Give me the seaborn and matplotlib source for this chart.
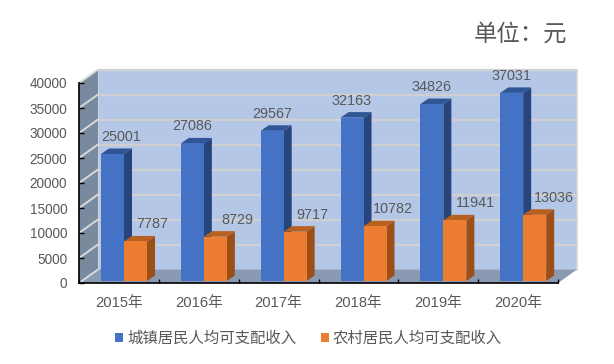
import matplotlib
matplotlib.use("Agg")
import matplotlib.pyplot as plt
from matplotlib.patches import Polygon, Patch
from matplotlib.transforms import Affine2D
import pandas as pd
import seaborn as sns

years = ["2015年", "2016年", "2017年", "2018年", "2019年", "2020年"]
urban = [25001, 27086, 29567, 32163, 34826, 37031]
rural = [7787, 8729, 9717, 10782, 11941, 13036]
urban_name = "城镇居民人均可支配收入"
rural_name = "农村居民人均可支配收入"
yticks = list(range(0, 40001, 5000))
urban_label_dx = [9, 0, 0, 0, 0, 0]
rural_label_dx = [17, 22, 17, 18, 21, 19]

sns.set_theme(style="white")
plt.rcParams["font.family"] = ["Liberation Sans", "Noto Sans CJK SC", "DejaVu Sans"]

W, H = 614, 364
GREY = "#595959"
fig = plt.figure(figsize=(W / 100, H / 100), dpi=100, facecolor="white")


def box(l, r, top, bottom):
    return [l / W, 1 - bottom / H, (r - l) / W, (bottom - top) / H]


ax = fig.add_axes(box(79, 558, 83, 283))
ax.set_xlim(0, 6)
ax.set_ylim(0, 40000)
ax.set_facecolor("none")

# 3D box walls, offset from the front axis plane
back = Affine2D().translate(19, 13.5)
wall_t = ax.transData + back
ax.add_patch(Polygon([(0, 0), (6, 0), (6, 40000), (0, 40000)], closed=True, transform=wall_t,
                     fc="#B4C7E7", ec="#D5D5D5", lw=1.2, zorder=0, clip_on=False))
d0 = ax.transData.transform((0, 0))
d6 = ax.transData.transform((6, 0))
dt = ax.transData.transform((0, 40000))
ident = Affine2D()
ax.add_patch(Polygon([d0, d0 + (19, 13.5), dt + (19, 13.5), dt], closed=True, transform=ident,
                     fc="#7A8A9E", ec="none", zorder=0.1, clip_on=False))
ax.add_patch(Polygon([d0, d6, d6 + (19, 13.5), d0 + (19, 13.5)], closed=True, transform=ident,
                     fc="#8A9AB3", ec="none", zorder=0.1, clip_on=False))
for t in yticks:
    p = ax.transData.transform((0, t))
    if t > 0:
        ax.plot([0, 6], [t, t], transform=wall_t, color="#D0D0D0", lw=1.6, zorder=0.2,
                clip_on=False, solid_capstyle="butt")
    ax.plot([p[0], p[0] + 19], [p[1], p[1] + 13.5], transform=ident, color="#D9D9D9", lw=1.4,
            zorder=0.2, clip_on=False)

ax.set_xticks(range(7))
ax.set_xticklabels([])
ax.set_xticks([i + 0.5 for i in range(6)], years, minor=True)
ax.set_yticks(yticks)
ax.set_yticklabels([str(t) for t in yticks], fontsize=9.8, color=GREY)
ax.tick_params(axis="x", which="major", direction="in", length=3.2, width=1, color="black",
               bottom=True, top=False)
ax.tick_params(axis="x", which="minor", length=0, labelsize=10.6, labelcolor=GREY, pad=9.5)
ax.tick_params(axis="y", direction="in", length=3.6, width=1, color="black", left=True, pad=8.5)
for s in ["top", "right"]:
    ax.spines[s].set_visible(False)
for s in ["left", "bottom"]:
    ax.spines[s].set_color("black")
    ax.spines[s].set_linewidth(1.2)
    ax.spines[s].set_zorder(0.5)

# bars live in a plane slightly behind the front axis
bx = fig.add_axes(box(84.1, 563.1, 77.8, 281))
bx.patch.set_visible(False)
df = pd.DataFrame({
    "year": years * 2,
    "value": urban + rural,
    "kind": [urban_name] * 6 + [rural_name] * 6,
})
sns.barplot(data=df, x="year", y="value", hue="kind", ax=bx, width=0.576, gap=0,
            palette=["#4472C4", "#ED7D31"], saturation=1, legend=False, linewidth=0)
bx.set_xlim(-0.5, 5.5)
bx.set_ylim(0, 40000)
bx.axis("off")

DX, DY = 8, 5.5
styles = [("#2F5597", "#27457C", 2), ("#B8601F", "#9C5018", 4)]
containers = bx.containers
for cont, (top_c, side_c, z) in zip(containers, styles):
    for bar in cont:
        bar.set_zorder(z + 0.5)
        bar.set_linewidth(0)
        x0, y0 = bx.transData.transform((bar.get_x(), 0))
        x1, y1 = bx.transData.transform((bar.get_x() + bar.get_width(), bar.get_height()))
        bx.add_patch(Polygon([(x1, y0), (x1 + DX, y0 + DY), (x1 + DX, y1 + DY), (x1, y1)], closed=True,
                             transform=ident, fc=side_c, ec="none", zorder=z, clip_on=False))
        bx.add_patch(Polygon([(x0, y1), (x1, y1), (x1 + DX, y1 + DY), (x0 + DX, y1 + DY)], closed=True,
                             transform=ident, fc=top_c, ec="none", zorder=z, clip_on=False))

for cont, vals, dxs in zip(containers, [urban, rural], [urban_label_dx, rural_label_dx]):
    for bar, v, dx in zip(cont, vals, dxs):
        bx.annotate(str(v), (bar.get_x() + bar.get_width() / 2, v), xytext=(dx, 17),
                    textcoords="offset pixels", ha="center", va="center",
                    fontsize=10.4, color=GREY, zorder=8, annotation_clip=False)

fig.text(567 / W, 1 - 34 / H, "单位：元", ha="right", va="center", fontsize=16.8, color=GREY)

handles = [Patch(fc="#4472C4", ec="none"), Patch(fc="#ED7D31", ec="none")]
fig.legend(handles, [urban_name, rural_name], loc="center", bbox_to_anchor=(308.5 / W, 1 - 339 / H),
           ncol=2, frameon=False, fontsize=11.1, labelcolor=GREY, handlelength=0.52, handleheight=0.52,
           handletextpad=0.26, columnspacing=1.6, borderpad=0, borderaxespad=0)

fig.savefig("out.png", dpi=100, facecolor="white")
